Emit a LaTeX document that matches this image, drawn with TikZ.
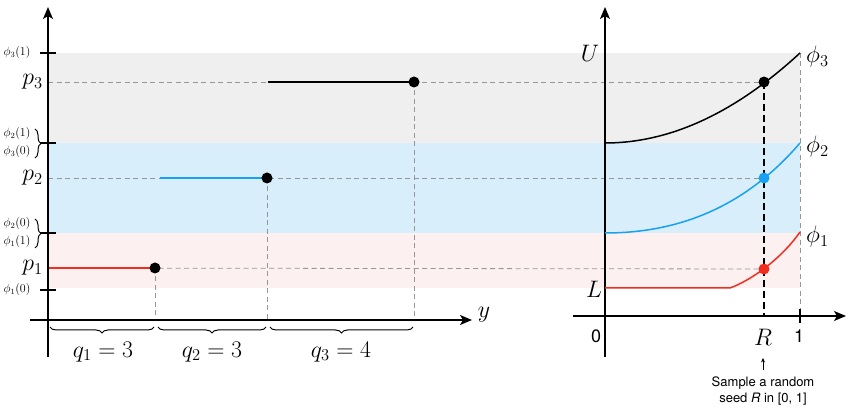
\documentclass[tikz,border=0pt]{standalone}
\usepackage{graphicx}
\usepackage{fontspec}
\setsansfont{TeX Gyre Heros}
\usetikzlibrary{arrows.meta,decorations.pathreplacing}
\definecolor{bandgray}{RGB}{239,239,239}
\definecolor{bandblue}{RGB}{216,238,251}
\definecolor{bandpink}{RGB}{253,240,240}
\definecolor{phired}{RGB}{240,45,30}
\definecolor{phiblue}{RGB}{25,160,240}
\definecolor{guidegray}{RGB}{150,150,150}
\newcommand{\lgmath}[1]{\scalebox{1.15}{\fontsize{20.74}{24}\selectfont$#1$}}
\begin{document}
\begin{tikzpicture}[x=1pt,y=-1pt,
  axis/.style={line width=1.4pt,-{Stealth[length=12pt,width=10pt,inset=3pt]}},
  guide/.style={guidegray,line width=0.8pt,dash pattern=on 5pt off 3.5pt},
  rguide/.style={black,line width=1.5pt,dash pattern=on 7pt off 4pt},
  dot/.style={circle,fill=black,inner sep=0pt,minimum size=11pt},
  big/.style={inner sep=2pt},
  small/.style={font=\fontsize{12}{14}\selectfont},
  sans/.style={font=\sffamily\fontsize{18}{21}\selectfont},
  note/.style={font=\sffamily\fontsize{13}{16}\selectfont,align=center},
  tick/.style={line width=1.4pt},
  seg/.style={line width=2.8pt},
  curve/.style={line width=1.5pt},
  brc/.style={decorate,decoration={brace,amplitude=6pt},line width=1pt},
  brcm/.style={decorate,decoration={brace,amplitude=6pt,mirror},line width=1pt}]
\useasboundingbox (0,0) rectangle (847,414);
% bands
\fill[bandgray] (48,53) rectangle (800,143);
\fill[bandblue] (48,143) rectangle (800,233);
\fill[bandpink] (48,233) rectangle (800,288);
% coordinates
\coordinate (lx0) at (30,320);
\coordinate (lx1) at (472,320);
\coordinate (ly0) at (48,357);
\coordinate (ly1) at (48,7);
\coordinate (rx0) at (573,316);
\coordinate (rx1) at (846,316);
\coordinate (ry0) at (605,357);
\coordinate (ry1) at (605,7);
% level start points
\coordinate (s3) at (48,82);
\coordinate (s2) at (48,178);
\coordinate (s1) at (48,268);
\coordinate (a3) at (268,82);
\coordinate (a2) at (160,178);
% dot positions
\coordinate (d3) at (414,82);
\coordinate (d2) at (267,178);
\coordinate (d1) at (155,268);
\coordinate (r3) at (764,82);
\coordinate (r2) at (764,178);
\coordinate (r1) at (764,269);
% bottoms
\coordinate (b3) at (414,320);
\coordinate (b2) at (267,320);
\coordinate (b1) at (155,320);
\coordinate (rb) at (764,316);
\coordinate (one) at (800,316);
\coordinate (onetop) at (800,53);
% guide lines
\draw[guide] (s3) -- (r3);
\draw[guide] (s2) -- (r2);
\draw[guide] (s1) -- (r1);
\draw[guide] (d3) -- (b3);
\draw[guide] (d2) -- (b2);
\draw[guide] (d1) -- (b1);
\draw[guide] (onetop) -- (one);
\draw[rguide] (r3) -- (rb);
% segments
\draw[seg] (a3) -- (d3);
\draw[seg,phiblue] (a2) -- (d2);
\draw[seg,phired] (s1) -- (d1);
% axes
\draw[axis] (lx0) -- (lx1);
\draw[axis] (ly0) -- (ly1);
\draw[axis] (rx0) -- (rx1);
\draw[axis] (ry0) -- (ry1);
% ticks
\foreach \yy in {53,143,233,290} \draw[tick] (40,\yy) -- (56,\yy);
\draw[tick] (one) -- ++(0,7) (one) -- ++(0,-7);
% left labels
\node[big,anchor=east] (lp3) at (45,82) {\lgmath{p_3}};
\node[big,anchor=east] (lp2) at (45,178) {\lgmath{p_2}};
\node[big,anchor=east] (lp1) at (45,268) {\lgmath{p_1}};
\node[small] (f31) at (17,53) {$\phi_3(1)$};
\node[small] (f21) at (17,134) {$\phi_2(1)$};
\node[small] (f30) at (17,152) {$\phi_3(0)$};
\node[small] (f20) at (17,224) {$\phi_2(0)$};
\node[small] (f11) at (17,242) {$\phi_1(1)$};
\node[small] (f10) at (17,290) {$\phi_1(0)$};
\draw[brc] (35,129) -- (35,158);
\draw[brc] (35,219) -- (35,248);
\node[big] (ylab) at (484,315) {\lgmath{y}};
% bottom braces
\draw[brcm] (50,327) -- (154,327);
\draw[brcm] (158,327) -- (266,327);
\draw[brcm] (270,327) -- (413,327);
\node[big] (q1) at (103,352) {\lgmath{q_1=3}};
\node[big] (q2) at (212,352) {\lgmath{q_2=3}};
\node[big] (q3) at (341,352) {\lgmath{q_3=4}};
% right curves
\coordinate (c3a) at (605,143);
\coordinate (c3b) at (800,53);
\coordinate (c2a) at (605,233);
\coordinate (c2b) at (800,143);
\coordinate (c1a) at (605,288);
\coordinate (c1k) at (730,288);
\coordinate (c1b) at (800,232);
\draw[curve] (c3a) .. controls (670,143) and (735,113) .. (c3b);
\draw[curve,phiblue] (c2a) .. controls (670,233) and (740,213) .. (c2b);
\draw[curve,phired] (c1a) -- (c1k) .. controls (752,280) and (782,258) .. (c1b);
% dots
\node[dot] (n3) at (d3) {};
\node[dot] (n2) at (d2) {};
\node[dot] (n1) at (d1) {};
\node[dot] (m3) at (r3) {};
\node[dot,fill=phiblue] (m2) at (r2) {};
\node[dot,fill=phired] (m1) at (r1) {};
% right labels
\node[big,anchor=west] (phi3) at (804,57) {\lgmath{\phi_3}};
\node[big,anchor=west] (phi2) at (804,147) {\lgmath{\phi_2}};
\node[big,anchor=west] (phi1) at (804,237) {\lgmath{\phi_1}};
\node[big] (U) at (590,53) {\lgmath{U}};
\node[big] (L) at (594,289) {\lgmath{L}};
\node[sans] (zero) at (596,336) {0};
\node[sans] (onel) at (799,336) {1};
\node[big] (R) at (763,337) {\lgmath{R}};
\coordinate (arrowtop) at (763,358);
\coordinate (arrowbot) at (763,370);
\draw[line width=0.7pt,-{Stealth[length=4.5pt,width=4pt]}] (arrowbot) -- (arrowtop);
\node[note] (sample) at (763,391) {Sample a random\\seed \textit{R} in [0, 1]};
\end{tikzpicture}
\end{document}
